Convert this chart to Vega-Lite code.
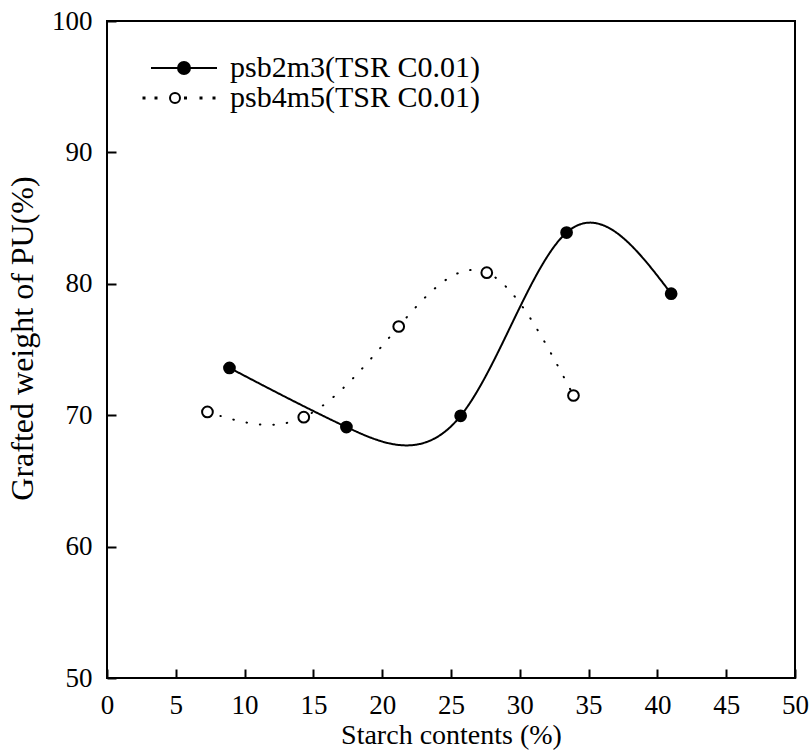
{
  "$schema": "https://vega.github.io/schema/vega-lite/v6.json",
  "width": 688,
  "height": 657,
  "autosize": "none",
  "padding": {"left": 107, "top": 21, "right": 17, "bottom": 73},
  "background": "white",
  "config": {
    "font": "Liberation Serif",
    "view": {"stroke": "black", "strokeWidth": 2},
    "axis": {
      "grid": false,
      "labelColor": "black",
      "titleColor": "black",
      "labelFont": "Liberation Serif",
      "titleFont": "Liberation Serif",
      "labelFontSize": 27,
      "titleFontSize": 28,
      "titleFontWeight": "normal",
      "labelFlush": false,
      "labelOverlap": false
    },
    "legend": {
      "title": null,
      "padding": 0,
      "labelFont": "Liberation Serif",
      "labelFontSize": 30,
      "labelColor": "black",
      "labelLimit": 0,
      "labelOffset": 31,
      "symbolSize": 100,
      "rowPadding": 2,
      "symbolStrokeWidth": 2,
      "symbolStrokeColor": "black"
    }
  },
  "data": {
    "values": [
      {"series": "psb2m3(TSR C0.01)", "x": 8.9, "y": 73.6},
      {"series": "psb2m3(TSR C0.01)", "x": 17.4, "y": 69.1},
      {"series": "psb2m3(TSR C0.01)", "x": 25.7, "y": 69.95},
      {"series": "psb2m3(TSR C0.01)", "x": 33.4, "y": 83.9},
      {"series": "psb2m3(TSR C0.01)", "x": 41.0, "y": 79.25},
      {"series": "psb4m5(TSR C0.01)", "x": 7.3, "y": 70.25},
      {"series": "psb4m5(TSR C0.01)", "x": 14.3, "y": 69.85},
      {"series": "psb4m5(TSR C0.01)", "x": 21.2, "y": 76.75},
      {"series": "psb4m5(TSR C0.01)", "x": 27.6, "y": 80.85},
      {"series": "psb4m5(TSR C0.01)", "x": 33.9, "y": 71.5}
    ]
  },
  "encoding": {
    "x": {
      "field": "x",
      "type": "quantitative",
      "scale": {"domain": [0, 50], "nice": false, "zero": false},
      "axis": {
        "values": [0, 5, 10, 15, 20, 25, 30, 35, 40, 45, 50],
        "title": "Starch contents (%)",
        "domain": false,
        "ticks": true,
        "offset": -9,
        "tickSize": 9,
        "tickWidth": 2,
        "tickColor": "black",
        "tickOpacity": 1,
        "zindex": 2,
        "labelPadding": 14,
        "titlePadding": 3
      }
    },
    "y": {
      "field": "y",
      "type": "quantitative",
      "scale": {"domain": [50, 100], "nice": false, "zero": false},
      "axis": {
        "values": [50, 60, 70, 80, 90, 100],
        "title": "Grafted weight of PU(%)",
        "domain": false,
        "ticks": true,
        "offset": -9,
        "tickSize": 9,
        "tickWidth": 2,
        "tickColor": "black",
        "tickOpacity": 1,
        "zindex": 2,
        "titleFontSize": 32,
        "titleY": 317,
        "labelPadding": 15,
        "titlePadding": 12
      }
    }
  },
  "layer": [
    {
      "mark": {"type": "line", "interpolate": "natural", "color": "black", "strokeWidth": 2, "strokeCap": "round"},
      "encoding": {
        "strokeDash": {
          "field": "series",
          "type": "nominal",
          "scale": {"range": [[1, 0], [0.5, 13]]},
          "legend": null
        }
      }
    },
    {
      "mark": {"type": "point", "shape": "circle", "filled": true, "size": 115, "strokeWidth": 2, "opacity": 1},
      "encoding": {
        "fill": {
          "field": "series",
          "type": "nominal",
          "scale": {"range": ["black", "white"]},
          "legend": {
            "orient": "none",
            "legendX": 62,
            "legendY": 32,
            "values": ["psb2m3(TSR C0.01)"],
            "symbolType": "M-6.6,0H6.6M-1.2,0A1.2,1.2 0 1,0 1.2,0A1.2,1.2 0 1,0 -1.2,0Z"
          }
        },
        "stroke": {
          "field": "series",
          "type": "nominal",
          "scale": {"range": ["black", "black"]},
          "legend": {
            "orient": "top-left",
            "offset": 62,
            "values": ["psb4m5(TSR C0.01)"],
            "symbolFillColor": "white",
            "symbolType": "M-8.1,-0.1h0.2v0.2h-0.2ZM-5.7,-0.1h0.2v0.2h-0.2ZM-2.8,0A1,1 0 1,0 -0.8,0A1,1 0 1,0 -2.8,0ZM0.2,-0.1h0.2v0.2h-0.2ZM3.3,-0.1h0.2v0.2h-0.2ZM5.9,-0.1h0.2v0.2h-0.2Z"
          }
        }
      }
    }
  ]
}
